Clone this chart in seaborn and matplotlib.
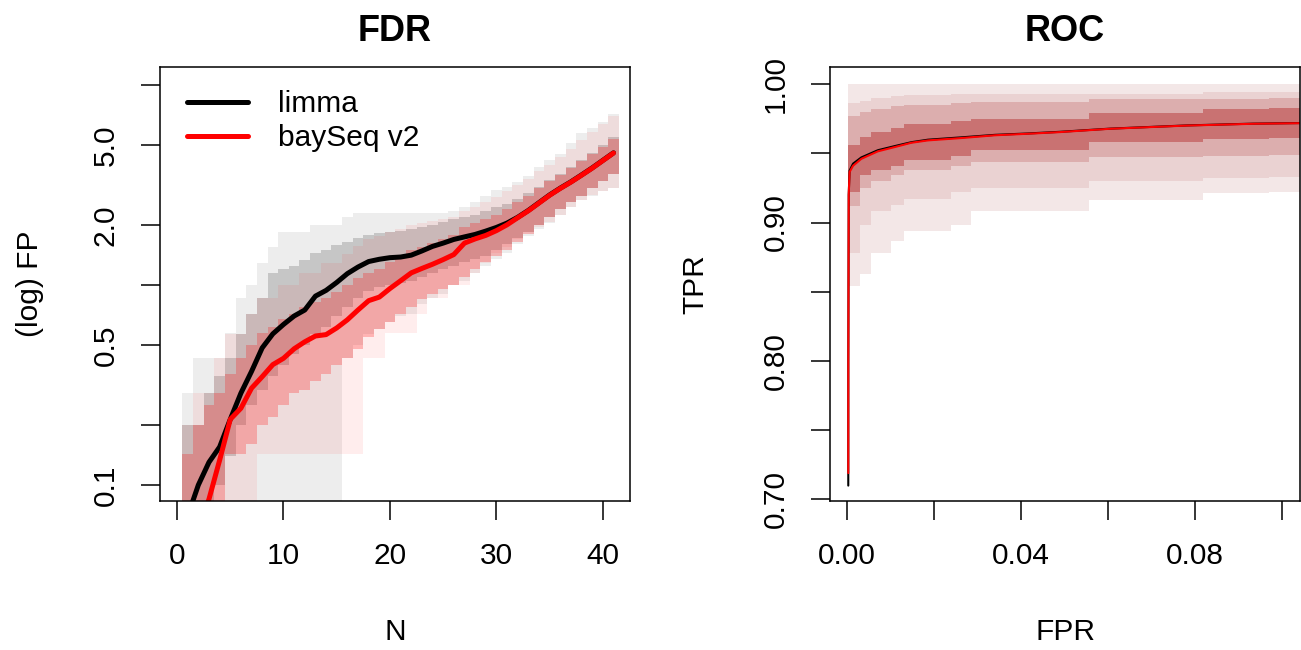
import numpy as np
import matplotlib
matplotlib.use('Agg')
import matplotlib.pyplot as plt
import seaborn as sns

sns.set_theme(style='ticks')
plt.rcParams['font.family'] = ['Liberation Sans', 'DejaVu Sans']
plt.rcParams['text.color'] = 'black'
plt.rcParams['axes.labelcolor'] = 'black'

# =====================================================
# FDR panel data (N = number of top-ranked genes)
# =====================================================
n_top = np.arange(1, 42)

limma_fp = [0.07, 0.10, 0.13, 0.155, 0.213, 0.288, 0.37, 0.485, 0.57, 0.635,
            0.70, 0.75, 0.88, 0.94, 1.03, 1.14, 1.23, 1.31, 1.345, 1.37,
            1.38, 1.41, 1.48, 1.56, 1.62, 1.69, 1.74, 1.79, 1.86, 1.94,
            2.04, 2.18, 2.36, 2.58, 2.82, 3.05, 3.28, 3.55, 3.85, 4.2, 4.58]
bayseq_fp = [0.04, 0.06, 0.085, 0.133, 0.213, 0.242, 0.305, 0.348, 0.40, 0.43,
             0.48, 0.52, 0.556, 0.565, 0.61, 0.67, 0.75, 0.835, 0.87, 0.96,
             1.05, 1.15, 1.21, 1.27, 1.34, 1.42, 1.62, 1.70, 1.77, 1.87,
             2.0, 2.17, 2.35, 2.57, 2.81, 3.04, 3.27, 3.54, 3.84, 4.19, 4.57]

# spread of FP over replicates (outer and inner bands)
limma_out_lo = [0.01] * 15 + [0.43, 0.5, 0.57, 0.6, 0.65, 0.7, 0.72, 0.8, 0.86, 0.9,
                              1.0, 1.05, 1.15, 1.25, 1.35, 1.45, 1.6, 1.75, 1.9, 2.05,
                              2.25, 2.45, 2.65, 2.8, 2.95, 3.05]
limma_out_hi = [0.287, 0.43, 0.43, 0.43, 0.573, 0.86, 1.0, 1.29, 1.55, 1.85,
                1.85, 1.85, 2.0, 2.0, 2.0, 2.2, 2.29, 2.29, 2.29, 2.29,
                2.29, 2.29, 2.29, 2.29, 2.29, 2.35, 2.46, 2.6, 2.78, 2.98,
                3.1, 3.28, 3.5, 3.9, 4.2, 4.5, 5.1, 5.75, 6.1, 6.55, 7.2]
limma_in_lo = [0.01, 0.01, 0.01, 0.1, 0.14, 0.2, 0.25, 0.3, 0.35, 0.4,
               0.45, 0.5, 0.57, 0.62, 0.7, 0.78, 0.86, 0.93, 0.98, 1.0,
               1.02, 1.05, 1.1, 1.15, 1.2, 1.25, 1.3, 1.35, 1.4, 1.5,
               1.6, 1.72, 1.85, 2.0, 2.2, 2.4, 2.6, 2.8, 3.05, 3.3, 3.6]
limma_in_hi = [0.2, 0.2, 0.287, 0.35, 0.43, 0.57, 0.72, 0.86, 1.15, 1.2,
               1.25, 1.33, 1.45, 1.5, 1.58, 1.65, 1.72, 1.78, 1.82, 1.85,
               1.87, 1.9, 1.95, 2.0, 2.07, 2.14, 2.2, 2.25, 2.35, 2.45,
               2.55, 2.7, 2.9, 3.1, 3.35, 3.6, 3.9, 4.2, 4.55, 5.0, 5.5]

bayseq_out_lo = [0.01] * 7 + [0.143] * 10 + [0.43, 0.43, 0.573, 0.573, 0.573, 0.72, 0.86,
                                            0.86, 1.0, 1.0, 1.15, 1.29, 1.44, 1.55, 1.7,
                                            1.85, 1.95, 2.07, 2.24, 2.46, 2.66, 2.82, 2.95, 3.05]
bayseq_out_hi = [0.2, 0.287, 0.287, 0.43, 0.57, 0.57, 0.72, 0.86, 0.86, 1.0,
                 1.0, 1.15, 1.15, 1.29, 1.29, 1.43, 1.57, 1.7, 1.75, 1.85,
                 1.9, 2.0, 2.05, 2.1, 2.15, 2.2, 2.35, 2.45, 2.6, 2.75,
                 2.95, 3.15, 3.4, 3.7, 4.0, 4.35, 4.8, 5.3, 5.8, 6.4, 7.0]
bayseq_in_lo = [0.01, 0.01, 0.01, 0.08, 0.143, 0.143, 0.16, 0.2, 0.22, 0.25,
                0.287, 0.3, 0.33, 0.36, 0.4, 0.43, 0.48, 0.55, 0.6, 0.65,
                0.72, 0.78, 0.85, 0.9, 0.95, 1.0, 1.1, 1.2, 1.3, 1.4,
                1.5, 1.65, 1.8, 2.0, 2.2, 2.4, 2.6, 2.8, 3.05, 3.3, 3.6]
bayseq_in_hi = [0.143, 0.2, 0.25, 0.287, 0.36, 0.43, 0.5, 0.573, 0.62, 0.68,
                0.72, 0.78, 0.82, 0.86, 0.92, 1.0, 1.08, 1.15, 1.2, 1.3,
                1.4, 1.5, 1.55, 1.62, 1.7, 1.78, 1.95, 2.05, 2.15, 2.25,
                2.4, 2.6, 2.8, 3.05, 3.3, 3.55, 3.85, 4.15, 4.5, 4.9, 5.4]

fdr_yticks = [0.1, 0.2, 0.5, 1, 2, 5, 10]
fdr_ylabels = ['0.1', '', '0.5', '', '2.0', '5.0', '']
fdr_xticks = [0, 10, 20, 30, 40]

# =====================================================
# ROC panel data
# =====================================================
limma_fpr = [0.0003, 0.00031, 0.0004, 0.0006, 0.0014, 0.0033, 0.0071, 0.011, 0.0148,
             0.0186, 0.0263, 0.034, 0.0416, 0.049, 0.0605, 0.078, 0.0934, 0.106]
limma_tpr = [0.710, 0.80, 0.92, 0.9375, 0.9425, 0.9470, 0.9522, 0.9552, 0.9580,
             0.9598, 0.9615, 0.9633, 0.9643, 0.9655, 0.9678, 0.9701, 0.9714, 0.9719]
bayseq_fpr = [0.0003, 0.00031, 0.0004, 0.0006, 0.0014, 0.0033, 0.0071, 0.011, 0.0148,
              0.0186, 0.0263, 0.034, 0.0416, 0.049, 0.0605, 0.078, 0.0934, 0.106]
bayseq_tpr = [0.719, 0.80, 0.92, 0.9365, 0.941, 0.946, 0.9514, 0.9545, 0.9576,
              0.9593, 0.961, 0.963, 0.9641, 0.9653, 0.9677, 0.970, 0.9713, 0.9718]

roc_edges = [0.0003, 0.003, 0.0055, 0.0101, 0.0132, 0.024, 0.0285, 0.0555, 0.0817, 0.097, 0.106]
roc_band1_lo = [0.854, 0.863, 0.878, 0.887, 0.894, 0.898, 0.908, 0.916, 0.921, 0.922]
roc_band1_hi = [1.0, 1.0, 1.0, 1.0, 1.0, 1.0, 1.0, 1.0, 1.0, 1.0]
roc_band2_lo = [0.878, 0.898, 0.908, 0.913, 0.917, 0.922, 0.925, 0.930, 0.932, 0.933]
roc_band2_hi = [0.986, 0.988, 0.990, 0.991, 0.992, 0.993, 0.993, 0.993, 0.994, 0.994]
roc_band3_lo = [0.912, 0.925, 0.930, 0.934, 0.938, 0.941, 0.944, 0.947, 0.948, 0.949]
roc_band3_hi = [0.977, 0.980, 0.982, 0.984, 0.985, 0.986, 0.987, 0.989, 0.989, 0.990]
roc_band4_lo = [0.922, 0.934, 0.938, 0.941, 0.945, 0.948, 0.952, 0.958, 0.960, 0.961]
roc_band4_hi = [0.956, 0.962, 0.965, 0.968, 0.971, 0.973, 0.975, 0.979, 0.982, 0.983]

roc_xticks = [0.0, 0.02, 0.04, 0.06, 0.08, 0.10]
roc_xlabels = ['0.00', '', '0.04', '', '0.08', '']
roc_yticks = [0.70, 0.75, 0.80, 0.85, 0.90, 0.95, 1.00]
roc_ylabels = ['0.70', '', '0.80', '', '0.90', '', '1.00']

# =====================================================
# Figure
# =====================================================
FS = 21.5
fig = plt.figure(figsize=(13.01, 6.5), dpi=100)
ax1 = fig.add_axes([160 / 1301, 1 - 500.7 / 650, 470 / 1301, 433.7 / 650])
ax2 = fig.add_axes([830 / 1301, 1 - 500.7 / 650, 470 / 1301, 433.7 / 650])

# ---- FDR ----
ax1.set_yscale('log')
n_edges = np.append(n_top - 0.5, n_top[-1] + 0.5)
for lo, hi, a in [(limma_out_lo, limma_out_hi, 0.07), (limma_in_lo, limma_in_hi, 0.16)]:
    ax1.stairs(hi, n_edges, baseline=lo, fill=True, color='black', alpha=a, lw=0)
for lo, hi, a in [(bayseq_out_lo, bayseq_out_hi, 0.07), (bayseq_in_lo, bayseq_in_hi, 0.24)]:
    ax1.stairs(hi, n_edges, baseline=lo, fill=True, color='red', alpha=a, lw=0)

sns.lineplot(x=n_top, y=limma_fp, ax=ax1, color='black', lw=3.6, label='limma')
sns.lineplot(x=n_top, y=bayseq_fp, ax=ax1, color='red', lw=3.6, label='baySeq v2')

ax1.set_xlim(-1.6, 42.55)
ax1.set_ylim(0.0835, 12.3)
ax1.set_xticks(fdr_xticks)
ax1.set_xticklabels([str(t) for t in fdr_xticks])
ax1.set_yticks(fdr_yticks)
ax1.set_yticklabels(fdr_ylabels, rotation=90, va='center')
ax1.minorticks_off()
ax1.legend(loc='upper left', bbox_to_anchor=(0.057, 0.947), frameon=False,
           borderaxespad=0, borderpad=0, handlelength=2.05, handletextpad=1.0,
           labelspacing=0.2, fontsize=FS)
ax1.text(0.5, 1.06, 'FDR', transform=ax1.transAxes, ha='center', va='baseline',
         fontsize=26, fontweight='bold')
ax1.set_xlabel('N', fontsize=FS, va='center')
ax1.set_ylabel('(log) FP', fontsize=FS, va='center')
ax1.xaxis.set_label_coords(0.5, -0.3027)
ax1.yaxis.set_label_coords(-0.2766, 0.5)

# ---- ROC ----
roc_colors = ['#f3e7e7', '#ead2d2', '#dcaeae', '#c97272']
roc_bands = [(roc_band1_lo, roc_band1_hi), (roc_band2_lo, roc_band2_hi),
             (roc_band3_lo, roc_band3_hi), (roc_band4_lo, roc_band4_hi)]
for (lo, hi), c in zip(roc_bands, roc_colors):
    ax2.stairs(hi, roc_edges, baseline=lo, fill=True, color=c, lw=0)

sns.lineplot(x=limma_fpr, y=limma_tpr, ax=ax2, color='black', lw=1.5,
             sort=False, estimator=None)
sns.lineplot(x=bayseq_fpr, y=bayseq_tpr, ax=ax2, color='red', lw=1.5,
             sort=False, estimator=None)

ax2.set_xlim(-0.0039, 0.1041)
ax2.set_ylim(0.6991, 1.0123)
ax2.set_xticks(roc_xticks)
ax2.set_xticklabels(roc_xlabels)
ax2.set_yticks(roc_yticks)
ax2.set_yticklabels(roc_ylabels, rotation=90, va='center')
ax2.text(0.5, 1.06, 'ROC', transform=ax2.transAxes, ha='center', va='baseline',
         fontsize=26, fontweight='bold')
ax2.set_xlabel('FPR', fontsize=FS, va='center')
ax2.set_ylabel('TPR', fontsize=FS, va='center')
ax2.xaxis.set_label_coords(0.5, -0.3027)
ax2.yaxis.set_label_coords(-0.2866, 0.5)

for ax in (ax1, ax2):
    for s in ax.spines.values():
        s.set_visible(True)
        s.set_linewidth(1.1)
        s.set_color('black')
    ax.tick_params(axis='both', which='major', direction='out', length=14, width=1.1,
                   color='black', labelsize=FS, labelcolor='black')
    ax.tick_params(axis='x', pad=16)
    ax.tick_params(axis='y', pad=15)
    ax.grid(False)

fig.savefig('out.png', dpi=100)
